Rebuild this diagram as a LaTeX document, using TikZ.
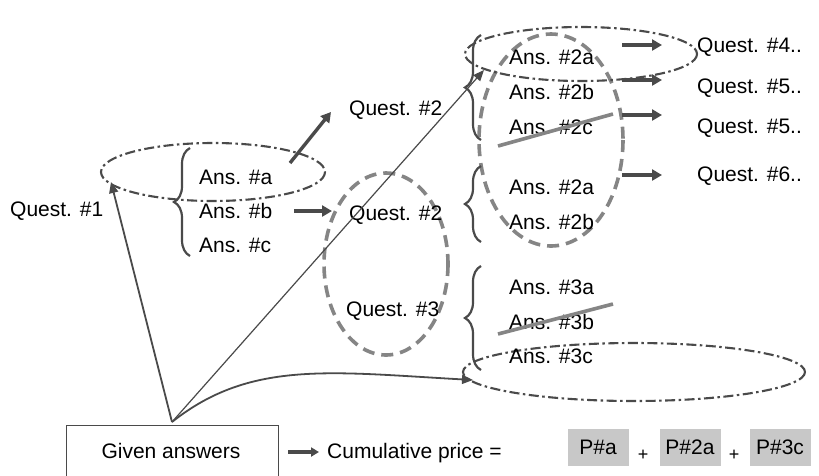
\documentclass[tikz,border=0pt]{standalone}
\usepackage{fontspec}
\setmainfont{Liberation Sans}
\usetikzlibrary{arrows.meta,decorations.pathreplacing,calc}
\definecolor{ln}{HTML}{4A4A4A}
\definecolor{dsh}{HTML}{858585}
\definecolor{pbox}{HTML}{C8C8C8}
\begin{document}
\begin{tikzpicture}[x=1pt,y=-1pt,
  txt/.style={font=\fontsize{21}{22}\selectfont, inner sep=0pt, anchor=west},
  dashdot/.style={draw=ln, line width=2.1pt, dash pattern=on 10pt off 3.5pt on 2.5pt off 3.5pt},
  dashgrey/.style={draw=dsh, line width=3.6pt, dash pattern=on 12pt off 7pt},
  fatarrow/.style={draw=ln, line width=3.4pt, -{Triangle[length=10pt,width=11pt]}},
  thinarrow/.style={draw=ln, line width=1.8pt, -{Triangle[length=11pt,width=9pt]}},
  bracestyle/.style={draw=ln, line width=2.2pt, decorate, decoration={brace, amplitude=16pt}},
  strike/.style={draw=dsh, line width=3.6pt},
  pricebox/.style={fill=pbox, inner sep=0pt, minimum width=61pt, minimum height=37pt, font=\fontsize{21}{22}\selectfont}
]
\useasboundingbox (0,0) rectangle (819,475);
\fill[white] (0,0) rectangle (819,475);

% ellipses
\draw[dashdot] (213,172) ellipse [x radius=112, y radius=29];
\draw[dashgrey] (386,264) ellipse [x radius=62, y radius=91];
\draw[dashgrey] (551,140) ellipse [x radius=72, y radius=106];
\draw[dashdot] (581,54) ellipse [x radius=116, y radius=27];
\draw[dashdot] (634,372) ellipse [x radius=171, y radius=29];

% texts
\node[txt] (q1) at (10,211) {Quest. \#1};
\node[txt] (aa) at (199,177) {Ans. \#a};
\node[txt] (ab) at (199,211) {Ans. \#b};
\node[txt] (ac) at (199,245) {Ans. \#c};
\node[txt] (q2t) at (349,110) {Quest. \#2};
\node[txt] (q2m) at (349,215) {Quest. \#2};
\node[txt] (q3) at (346,311) {Quest. \#3};
\node[txt] (a2a) at (509,57) {Ans. \#2a};
\node[txt] (a2b) at (509,92) {Ans. \#2b};
\node[txt] (a2c) at (509,127) {Ans. \#2c};
\node[txt] (b2a) at (509,187) {Ans. \#2a};
\node[txt] (b2b) at (509,222) {Ans. \#2b};
\node[txt] (a3a) at (509,287) {Ans. \#3a};
\node[txt] (a3b) at (509,322) {Ans. \#3b};
\node[txt] (a3c) at (509,356) {Ans. \#3c};
\node[txt] (q4) at (697,47) {Quest. \#4..};
\node[txt] (q5a) at (697,88) {Quest. \#5..};
\node[txt] (q5b) at (697,128) {Quest. \#5..};
\node[txt] (q6) at (697,176) {Quest. \#6..};

% braces (drawn bottom to top so the tip points left)
\draw[bracestyle] (190,256) -- (190,148);
\draw[bracestyle] (481,140) -- (481,35);
\draw[bracestyle] (481,242) -- (481,166);
\draw[bracestyle] (481,370) -- (481,266);

% short arrows
\coordinate (aaS) at (290,163); \coordinate (aaE) at (331,112);
\draw[fatarrow] (aaS) -- (aaE);
\coordinate (abS) at (294,211); \coordinate (abE) at (332,211);
\draw[fatarrow] (abS) -- (abE);
\foreach \y/\n in {45/1,80/2,115/3,175/4}{
  \coordinate (rS\n) at (622,\y); \coordinate (rE\n) at (662,\y);
  \draw[fatarrow] (rS\n) -- (rE\n);
}

% strike-throughs
\draw[strike] (498,146) -- (613,114);
\draw[strike] (498,334) -- (613,304);

% given answers box
\node[draw=ln, line width=1pt, minimum width=212pt, minimum height=56pt, anchor=north, inner sep=0pt] (given) at (172,425) {};
\node[font=\fontsize{21}{22}\selectfont, inner sep=0pt] (giventxt) at (171,451) {Given answers};
\coordinate (v) at (172,422);
\coordinate (t1) at (111,182);
\coordinate (t2) at (484,70);
\coordinate (t3) at (473,380);
\draw[thinarrow] (v) -- (t1);
\draw[thinarrow, line width=1.2pt] (v) -- (t2);
\draw[thinarrow] (v) .. controls (250,360) and (330,372) .. (t3);

% bottom formula
\coordinate (cS) at (288,452); \coordinate (cE) at (319,452);
\draw[fatarrow, -{Triangle[length=8pt,width=9pt]}] (cS) -- (cE);
\node[txt] (cum) at (327,453) {Cumulative price =};
\node[pricebox] (pa) at (598,447) {P\#a};
\node[font=\fontsize{18}{18}\selectfont, inner sep=0pt] (plus1) at (643,455) {+};
\node[pricebox] (p2a) at (690,447) {P\#2a};
\node[font=\fontsize{18}{18}\selectfont, inner sep=0pt] (plus2) at (734,455) {+};
\node[pricebox] (p3c) at (780,447) {P\#3c};
\end{tikzpicture}
\end{document}
